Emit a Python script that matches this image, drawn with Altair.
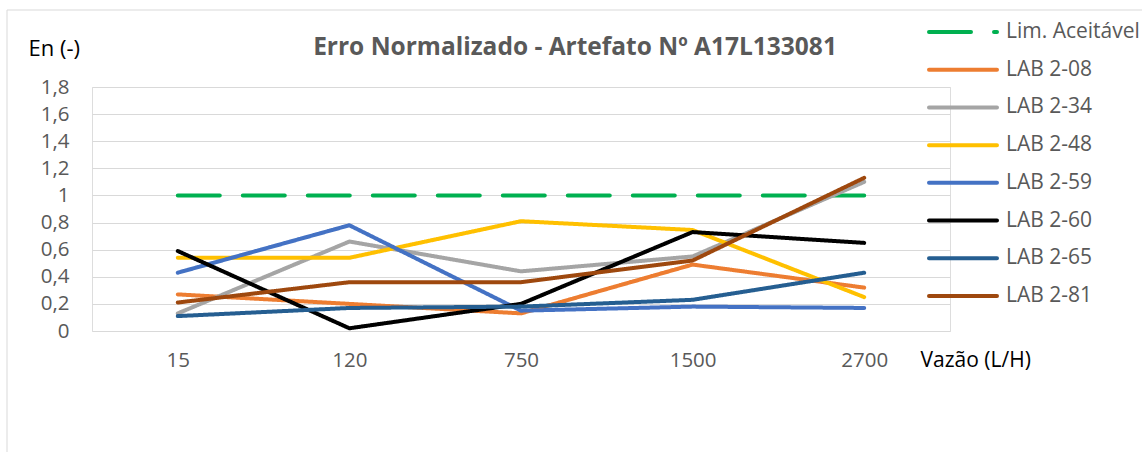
import altair as alt
import pandas as pd

# ---- data ----
flows = ["15", "120", "750", "1500", "2700"]
series_names = ["Lim. Aceitável", "LAB 2-08", "LAB 2-34", "LAB 2-48",
                "LAB 2-59", "LAB 2-60", "LAB 2-65", "LAB 2-81"]
lim_aceitavel = [1, 1, 1, 1, 1]
lab_2_08 = [0.27, 0.20, 0.13, 0.49, 0.32]
lab_2_34 = [0.13, 0.66, 0.44, 0.55, 1.10]
lab_2_48 = [0.54, 0.54, 0.81, 0.745, 0.25]
lab_2_59 = [0.43, 0.78, 0.15, 0.18, 0.17]
lab_2_60 = [0.59, 0.02, 0.20, 0.73, 0.65]
lab_2_65 = [0.11, 0.17, 0.18, 0.23, 0.43]
lab_2_81 = [0.21, 0.36, 0.36, 0.52, 1.13]
colors = ["#00B050", "#ED7D31", "#A5A5A5", "#FFC000",
          "#4472C4", "#000000", "#255E91", "#9E480E"]
y_ticks = [0, 0.2, 0.4, 0.6, 0.8, 1.0, 1.2, 1.4, 1.6, 1.8]

title_text = "Erro Normalizado - Artefato Nº A17L133081"
y_title = "En (-)"
x_title = "Vazão (L/H)"

all_values = [lim_aceitavel, lab_2_08, lab_2_34, lab_2_48,
              lab_2_59, lab_2_60, lab_2_65, lab_2_81]

rows = []
for name, vals in zip(series_names, all_values):
    kind = "lim" if name == "Lim. Aceitável" else "lab"
    for i, (f, v) in enumerate(zip(flows, vals)):
        rows.append({"serie": name, "flow": f, "en": v, "ord": i, "kind": kind})
df = pd.DataFrame(rows)

legend_df = pd.DataFrame({
    "serie": series_names,
    "idx": list(range(len(series_names))),
    "kind": ["lim"] + ["lab"] * (len(series_names) - 1),
})

FONT = "Open Sans"
GREY_TXT = "#595959"
W, H = 858, 244
PL, PT = 92, 87

color_scale = alt.Scale(domain=series_names, range=colors)
dash_scale = alt.Scale(domain=["lim", "lab"], range=[[42, 23], [1, 0]])

frame = alt.Chart(pd.DataFrame({"a": [0]})).mark_rect(
    filled=False, stroke="#D9D9D9", strokeWidth=1
).encode(
    x=alt.value(7 - PL), x2=alt.value(1142 - PL + 5),
    y=alt.value(10 - PT), y2=alt.value(452 - PT + 5),
)

lines = alt.Chart(df).mark_line(
    strokeWidth=4, strokeCap="round", strokeJoin="round"
).encode(
    x=alt.X("flow:O", sort=flows,
            scale=alt.Scale(type="point", padding=0.5),
            axis=alt.Axis(labelAngle=0, labelFontSize=20.5, labelColor=GREY_TXT,
                          labelFont=FONT, labelPadding=19, domain=False,
                          ticks=False, grid=False, title=x_title,
                          titleX=920 - PL, titleY=29, titleAlign="left",
                          titleBaseline="middle", titleFontWeight="normal",
                          titleFont=FONT, titleFontSize=21, titleColor="#000000")),
    y=alt.Y("en:Q", scale=alt.Scale(domain=[0, 1.8], nice=False, zero=True),
            axis=alt.Axis(values=y_ticks, labelFontSize=20.5, labelColor=GREY_TXT,
                          labelFont=FONT, labelPadding=23, domain=False,
                          ticks=False, grid=True, gridColor="#D9D9D9",
                          gridWidth=1.2,
                          labelExpr="replace(toString(round(datum.value*10)/10), '.', ',')",
                          title=y_title, titleAngle=0, titleX=28 - PL,
                          titleY=48 - PT, titleAlign="left",
                          titleBaseline="middle", titleFontWeight="normal",
                          titleFont=FONT, titleFontSize=22, titleColor="#000000")),
    color=alt.Color("serie:N", scale=color_scale, legend=None),
    strokeDash=alt.StrokeDash("kind:N", scale=dash_scale, legend=None),
    order=alt.Order("ord:Q"),
)

leg_y = alt.Y("idx:Q", scale=alt.Scale(domain=[0, 7], range=[32 - PT, 296 - PT]),
              axis=None)

legend_rules = alt.Chart(legend_df).mark_rule(
    strokeWidth=4, strokeCap="round"
).encode(
    x=alt.value(929 - PL), x2=alt.value(997 - PL),
    y=leg_y,
    color=alt.Color("serie:N", scale=color_scale, legend=None),
    strokeDash=alt.StrokeDash("kind:N", scale=dash_scale, legend=None),
)

legend_text = alt.Chart(legend_df).mark_text(
    align="left", baseline="middle", font=FONT, fontSize=21, color=GREY_TXT
).encode(
    x=alt.value(1006 - PL), y=leg_y, text="serie:N",
)

title = alt.Chart(pd.DataFrame({"t": [title_text]})).mark_text(
    align="center", baseline="middle", font=FONT, fontSize=24.5,
    fontWeight="bold", color=GREY_TXT
).encode(
    x=alt.value(575 - PL), y=alt.value(48 - PT), text="t:N",
)

chart = alt.layer(frame, lines, legend_rules, legend_text, title).resolve_scale(
    y="independent"
).properties(
    width=W, height=H,
    autosize=alt.AutoSizeParams(type="none"),
    padding={"left": PL, "top": PT, "right": 1142 - PL - W, "bottom": 452 - PT - H},
).configure_view(stroke=None).configure(background="white")

chart.save("out.html", embed_options={"renderer": "svg", "actions": False})
